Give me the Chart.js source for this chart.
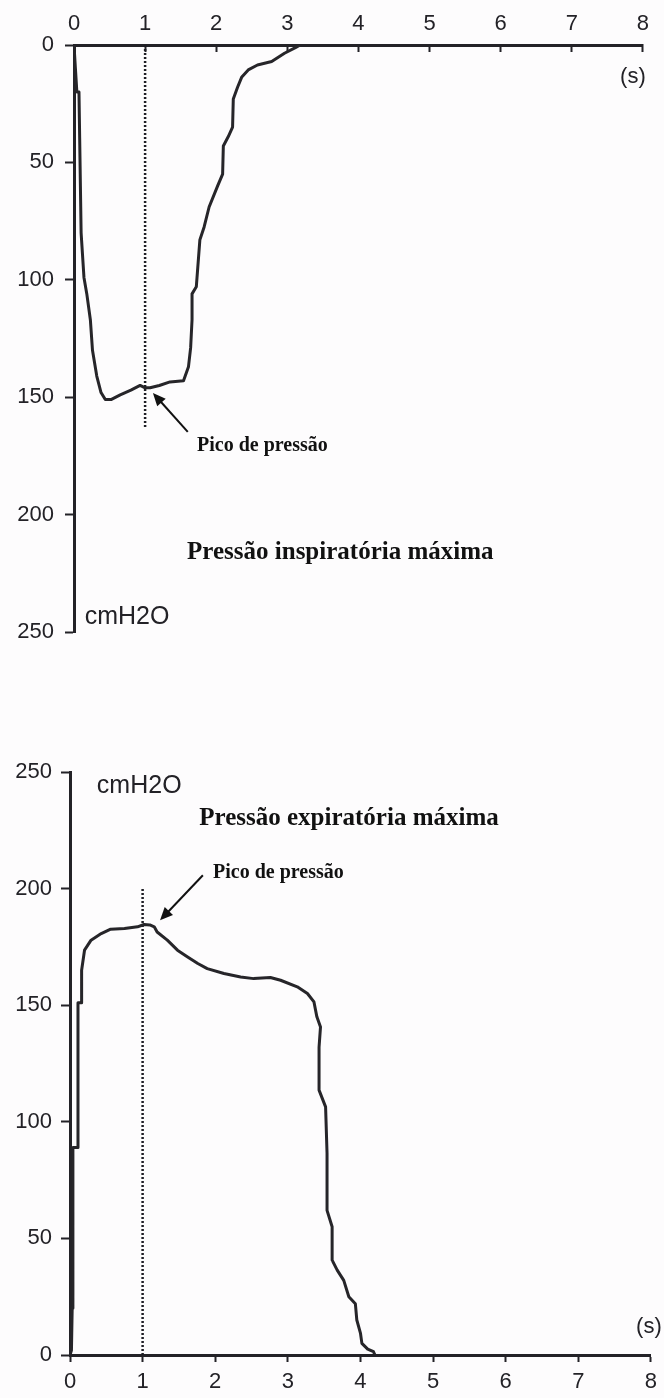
<!doctype html>
<html><head><meta charset="utf-8">
<title>Pressão inspiratória e expiratória máxima</title>
<script src="https://cdn.jsdelivr.net/npm/chart.js"></script>
<style>
  html, body { margin: 0; padding: 0; background: #fdfcfd; }
  .sheet { position: relative; width: 664px; height: 1398px; }
  .sheet .panel { position: absolute; left: 0; width: 664px; }
</style>
</head><body>
<div class="sheet">
  <div class="panel" style="top:0;height:700px"><canvas id="pim" width="664" height="700"></canvas></div>
  <div class="panel" style="top:700px;height:698px"><canvas id="pem" width="664" height="698"></canvas></div>
</div>
<script>
// axis ticks
const timeTicks = [0, 1, 2, 3, 4, 5, 6, 7, 8];
const pressureTicks = [0, 50, 100, 150, 200, 250];

// maximal inspiratory pressure trace (s, cmH2O)
const pimTime = [0, 0.02, 0.04, 0.07, 0.08, 0.1, 0.14, 0.18, 0.23, 0.26, 0.32, 0.38, 0.44, 0.52, 0.65,
  0.8, 0.93, 1.0, 1.07, 1.2, 1.35, 1.54, 1.61, 1.64, 1.66, 1.66, 1.72, 1.77, 1.83, 1.9, 2.02, 2.09,
  2.1, 2.17, 2.23, 2.24, 2.3, 2.36, 2.45, 2.58, 2.78, 2.96, 3.12, 3.18];
const pimPressure = [0, 10, 20, 20, 40, 80, 99, 106, 117, 130, 141, 148, 151, 151, 149,
  147, 145, 146, 146, 145, 143.5, 143, 137, 129, 117, 106, 103, 83, 77.5, 69, 60, 55,
  43, 39, 35, 23, 18, 13.6, 10.6, 8.5, 7, 3.5, 1, 0];

// maximal expiratory pressure trace (s, cmH2O)
const pemTime = [0, 0.02, 0.03, 0.04, 0.11, 0.11, 0.16, 0.16, 0.2, 0.29, 0.43, 0.56, 0.75, 0.93, 1.02,
  1.1, 1.16, 1.2, 1.34, 1.48, 1.62, 1.76, 1.89, 2.12, 2.35, 2.53, 2.76, 2.9, 3.13, 3.27, 3.36, 3.4,
  3.45, 3.43, 3.43, 3.52, 3.54, 3.54, 3.61, 3.61, 3.68, 3.77, 3.84, 3.93, 3.95, 4.0, 4.02, 4.1, 4.18, 4.2];
const pemPressure = [0, 2, 20, 89, 89, 151, 151, 165, 173.6, 177.9, 180.7, 182.6, 182.9, 183.6, 184.6,
  184.4, 183.6, 181.4, 177.9, 173.6, 170.7, 167.9, 165.7, 163.6, 162.1, 161.4, 161.9, 160.7, 157.9, 155, 151.4, 145,
  140.7, 132, 113.6, 106.4, 86.4, 62, 55, 40.7, 36.4, 32, 25, 22, 15, 9.4, 5, 2.5, 1.4, 0];

// dotted marker at the pressure peak
const peakTime = 1;
const pimPeakSpan = [0, 163];
const pemPeakSpan = [0, 200];

const ink = '#232227';
const tickFont = { family: '"Liberation Sans", Arial, sans-serif', size: 22 };

const notes = {
  id: 'notes',
  afterDatasetsDraw(chart, args, o) {
    const { ctx } = chart;
    const { x, y } = chart.scales;
    const at = p => [x.getPixelForValue(p[0]), y.getPixelForValue(p[1])];
    ctx.save();
    ctx.fillStyle = '#111';
    ctx.strokeStyle = '#111';
    ctx.lineWidth = 2;

    // arrow pointing at the peak
    const [x1, y1] = at(o.arrowFrom);
    const [x2, y2] = at(o.arrowTo);
    const a = Math.atan2(y2 - y1, x2 - x1);
    const hl = 14;
    ctx.beginPath();
    ctx.moveTo(x1, y1);
    ctx.lineTo(x2 - Math.cos(a) * hl * 0.7, y2 - Math.sin(a) * hl * 0.7);
    ctx.stroke();
    ctx.beginPath();
    ctx.moveTo(x2, y2);
    ctx.lineTo(x2 - hl * Math.cos(a - 0.42), y2 - hl * Math.sin(a - 0.42));
    ctx.lineTo(x2 - hl * Math.cos(a + 0.42), y2 - hl * Math.sin(a + 0.42));
    ctx.closePath();
    ctx.fill();

    ctx.textBaseline = 'middle';
    ctx.textAlign = 'left';
    ctx.font = 'bold 20px "Liberation Serif", serif';
    ctx.fillText('Pico de pressão', ...at(o.peakLabel));
    ctx.font = 'bold 25px "Liberation Serif", serif';
    ctx.fillText(o.title, ...at(o.titleAt));
    ctx.fillStyle = ink;
    ctx.font = '25px "Liberation Sans", Arial, sans-serif';
    ctx.fillText('cmH2O', ...at(o.unitAt));
    ctx.textAlign = 'right';
    ctx.font = '22px "Liberation Sans", Arial, sans-serif';
    ctx.fillText('(s)', ...at(o.secondsAt));
    ctx.restore();
  }
};

function makeChart(id, c) {
  const trace = c.time.map((t, i) => ({ x: t, y: c.pressure[i] }));
  const marker = c.peak.map(v => ({ x: peakTime, y: v }));
  return new Chart(document.getElementById(id), {
    type: 'line',
    data: {
      datasets: [
        { data: trace, borderColor: '#262529', borderWidth: 3, pointRadius: 0, tension: 0, borderJoinStyle: 'round' },
        { data: marker, borderColor: '#1e1e24', borderWidth: 2.5, borderDash: [2, 2], pointRadius: 0 }
      ]
    },
    options: {
      responsive: false,
      animation: false,
      events: [],
      layout: { autoPadding: false, padding: c.padding },
      plugins: { legend: { display: false }, tooltip: { enabled: false }, notes: c.notes },
      scales: {
        x: {
          type: 'linear', position: c.xPosition, min: 0, max: 8,
          afterBuildTicks: s => { s.ticks = timeTicks.map(v => ({ value: v })); },
          afterFit: s => { s.height = c.xHeight; },
          grid: { drawOnChartArea: false, tickLength: c.xTickLength, tickWidth: 2, tickColor: ink },
          border: { display: true, width: 3, color: ink },
          ticks: { padding: c.xPad, font: tickFont, color: ink, maxRotation: 0, autoSkip: false }
        },
        y: {
          type: 'linear', reverse: c.reverse, min: 0, max: 250,
          afterBuildTicks: s => { s.ticks = pressureTicks.map(v => ({ value: v })); },
          afterFit: s => { s.width = c.yWidth; },
          grid: { drawOnChartArea: false, tickLength: 9, tickWidth: 2, tickColor: ink },
          border: { display: true, width: 3, color: ink },
          ticks: { padding: c.yPad, font: tickFont, color: ink, autoSkip: false }
        }
      }
    },
    plugins: [notes]
  });
}

makeChart('pim', {
  time: pimTime, pressure: pimPressure, peak: pimPeakSpan,
  reverse: true, xPosition: 'top', xHeight: 45, xTickLength: -7, xPad: 15,
  yWidth: 74, yPad: 11,
  padding: { top: 0, right: 7, bottom: 68, left: 0 },
  notes: {
    arrowFrom: [1.6, 164.8], arrowTo: [1.11, 148.2],
    peakLabel: [1.73, 170.8],
    title: 'Pressão inspiratória máxima', titleAt: [1.59, 216],
    unitAt: [0.15, 243.6], secondsAt: [8.04, 13.6]
  }
});

makeChart('pem', {
  time: pemTime, pressure: pemPressure, peak: pemPeakSpan,
  reverse: false, xPosition: 'bottom', xHeight: 43, xTickLength: 7, xPad: 7,
  yWidth: 70, yPad: 9,
  padding: { top: 72, right: 13, bottom: 0, left: 0 },
  notes: {
    arrowFrom: [1.83, 205.7], arrowTo: [1.24, 186.4],
    peakLabel: [1.97, 206.6],
    title: 'Pressão expiratória máxima', titleAt: [1.78, 230],
    unitAt: [0.37, 244], secondsAt: [8.15, 12]
  }
});
</script>
</body></html>
